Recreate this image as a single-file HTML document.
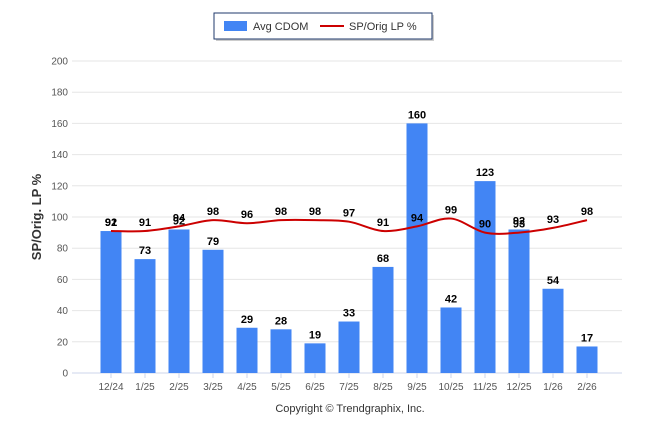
<!DOCTYPE html><html><head><style>body{margin:0;background:#fff;font-family:"Liberation Sans",sans-serif}</style></head><body>
<svg id="s" width="646" height="434" xmlns="http://www.w3.org/2000/svg" font-family="Liberation Sans, sans-serif"></svg>
<script>
const s=document.getElementById('s');let h='';
const y0=373,k=1.56,x0=111,dx=34;
const Y=v=>y0-v*k;
for(let v=0;v<=200;v+=20){h+=`<line x1="72" x2="622" y1="${Y(v)}" y2="${Y(v)}" stroke="${v?'#e6e6e6':'#ccd6eb'}"/>`;
h+=`<text x="68" y="${Y(v)+3.5}" font-size="10" fill="#555" text-anchor="end">${v}</text>`;}
const lab=['12/24','1/25','2/25','3/25','4/25','5/25','6/25','7/25','8/25','9/25','10/25','11/25','12/25','1/26','2/26'];
const bar=[91,73,92,79,29,28,19,33,68,160,42,123,92,54,17];
const ln=[92,91,94,98,96,98,98,97,91,94,99,90,93,93,98];
const lv=[91,91,94,98,96,98,98,97,91,94,99,90,90,93,98];
lab.forEach((l,i)=>{const x=x0+i*dx;
h+=`<rect x="${x-10.5}" y="${Y(bar[i])}" width="21" height="${bar[i]*k}" fill="#4285f4"/>`;
h+=`<line x1="${x}" x2="${x}" y1="373" y2="378" stroke="#ccd6eb"/>`;
h+=`<text x="${x}" y="390" font-size="10" fill="#555" text-anchor="middle">${l}</text>`;});
let p=lv.map((v,i)=>[x0+i*dx,Y(v)]);let d=`M${p[0]}`;
for(let i=0;i<p.length-1;i++){const a=p[Math.max(i-1,0)],b=p[i],c=p[i+1],e=p[Math.min(i+2,p.length-1)];
d+=` C${b[0]+(c[0]-a[0])/6},${b[1]+(c[1]-a[1])/6} ${c[0]-(e[0]-b[0])/6},${c[1]-(e[1]-b[1])/6} ${c[0]},${c[1]}`;}
h+=`<path d="${d}" fill="none" stroke="#cc0000" stroke-width="2"/>`;
lab.forEach((l,i)=>{const x=x0+i*dx;
h+=`<text x="${x}" y="${Y(bar[i])-5}" font-size="11" font-weight="bold" text-anchor="middle" fill="#000">${bar[i]}</text>`;
h+=`<text x="${x}" y="${Y(lv[i])-5}" font-size="11" font-weight="bold" text-anchor="middle" fill="#000">${ln[i]}</text>`;});
h+=`<text transform="translate(41,217) rotate(-90)" font-size="13" font-weight="bold" fill="#333" text-anchor="middle">SP/Orig. LP %</text>`;
h+=`<rect x="216" y="15" width="218" height="26" fill="#999" opacity=".5"/><rect x="214" y="13" width="218" height="26" fill="#fff" stroke="#1f3a6b"/>`;
h+=`<rect x="224" y="21" width="23" height="10" fill="#4285f4"/><text x="253" y="30" font-size="11" fill="#333">Avg CDOM</text>`;
h+=`<line x1="320" x2="344" y1="26" y2="26" stroke="#cc0000" stroke-width="2"/><text x="349" y="30" font-size="11" fill="#333">SP/Orig LP %</text>`;
h+=`<text x="350" y="412" font-size="11" fill="#333" text-anchor="middle">Copyright © Trendgraphix, Inc.</text>`;
s.innerHTML=h;
</script></body></html>
